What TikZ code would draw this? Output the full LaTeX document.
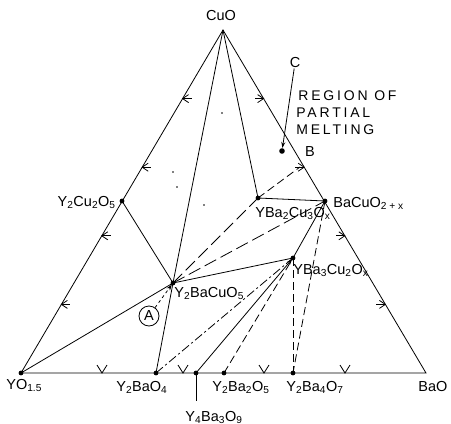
\documentclass[tikz,border=0pt]{standalone}
\usepackage{fontspec}
\setmainfont{Liberation Sans}
\usetikzlibrary{arrows.meta}
\begin{document}
\begin{tikzpicture}[x=1pt,y=-1pt,line width=0.8pt,
  lab/.style={font=\fontsize{14.5}{16}\selectfont,inner sep=0pt},
  spaced/.style={font=\fontsize{14}{16}\selectfont\addfontfeature{LetterSpace=20},inner sep=0pt},
  dsh/.style={dash pattern=on 8pt off 4pt},
  ldsh/.style={dash pattern=on 13pt off 5pt},
  dshdot/.style={dash pattern=on 9pt off 3pt on 2pt off 3pt},
  tip/.style={-{Stealth[length=6pt,width=4pt]}},
  ltick/.pic={\draw (0,0)--(9,0); \draw (6,-4)--(0,0)--(6,4);},
  rtick/.pic={\draw (0,0)--(-9,0); \draw (-6,-4)--(0,0)--(-6,4);},
  btick/.pic={\draw (-5,-8)--(0,0)--(5,-8);}]
\useasboundingbox (0,0) rectangle (451,424);
% corner and phase points
\coordinate (cuo) at (223,30);
\coordinate (yo) at (21,373);
\coordinate (bao) at (426,373);
\coordinate (ycu) at (122,201);
\coordinate (bacu) at (325,201);
\coordinate (g) at (173,283);
\coordinate (y123) at (258,198);
\coordinate (y132) at (293,258);
\coordinate (y2ba) at (156,373);
\coordinate (y4ba) at (196,373);
\coordinate (y2ba2) at (224,373);
\coordinate (y2ba4) at (293,373);
\coordinate (bpt) at (300,167);
\coordinate (melt) at (282,151);
\coordinate (y4end) at (196,401);
% triangle
\draw (yo) -- (cuo) -- (bao) -- cycle;
% tie lines
\draw (cuo) -- (g);
\draw (cuo) -- (y123);
\draw (ycu) -- (g);
\draw (y123) -- (bacu);
\draw[ldsh] (g) -- (y123);
\draw[ldsh] (g) -- (bacu);
\draw (g) -- (y132);
\draw (y132) -- (bacu);
\draw[dsh] (y123) -- (bpt);
\draw[dsh] (bacu) -- (y2ba4);
\draw[dsh] (y132) -- (y2ba4);
\draw[dshdot] (y2ba) -- (y132);
\draw[tip,shorten >=1pt] (y4ba) -- (y132);
\draw[dsh] (y2ba2) -- (y132);
\draw (yo) -- (g);
\draw (y2ba) -- (g);
\draw (y4ba) -- (y4end);
% edge ticks
\pic at (61.4,304.4) {ltick};
\pic at (101.8,235.8) {ltick};
\pic at (142.2,167.2) {ltick};
\pic at (182.6,98.6) {ltick};
\pic at (385.4,304.4) {rtick};
\pic at (344.8,235.8) {rtick};
\pic at (304.2,167.2) {rtick};
\pic at (263.6,98.6) {rtick};
\pic at (102,373) {btick};
\pic at (183,373) {btick};
\pic at (264,373) {btick};
\pic at (345,373) {btick};
% points
\foreach \p in {ycu,bacu,g,y132,y2ba,y4ba,y2ba2,y2ba4,yo}
  \fill (\p) circle (2.4);
\fill (y123) circle (2.4);
\fill (melt) circle (2.8);
\foreach \q in {(222,113),(173,172),(177,187),(204,205)}
  \fill \q circle (0.9);
% labels
\node[lab] (tcuo) at (221,16) {CuO};
\node[lab] (tc) at (295,63) {C};
\draw[tip,shorten >=3pt] (tc) -- (melt);
\node[spaced,anchor=base west] (t1) at (298,100) {REGION OF};
\node[spaced,anchor=base west] (t2) at (296,117) {PARTIAL};
\node[spaced,anchor=base west] (t3) at (296,134) {MELTING};
\node[lab] (tb) at (310,152) {B};
\node[lab,anchor=base east] (lycu) at (116,206) {Y\textsubscript{2}Cu\textsubscript{2}O\textsubscript{5}};
\node[lab,anchor=base west] (lg) at (174,297) {Y\textsubscript{2}BaCuO\textsubscript{5}};
\node[lab,anchor=base west] (l123) at (255,217) {YBa\textsubscript{2}Cu\textsubscript{3}O\textsubscript{x}};
\node[lab,anchor=base west] (lbacu) at (333,207) {BaCuO\textsubscript{2\;+\;x}};
\node[lab,anchor=base west] (l132) at (293,274) {YBa\textsubscript{3}Cu\textsubscript{2}O\textsubscript{x}};
\node[lab,anchor=base west] (lyo) at (6,389) {YO\textsubscript{1.5}};
\node[lab,anchor=base west] (ly2ba) at (116,391) {Y\textsubscript{2}BaO\textsubscript{4}};
\node[lab,anchor=base west] (ly2ba2) at (212,391) {Y\textsubscript{2}Ba\textsubscript{2}O\textsubscript{5}};
\node[lab,anchor=base west] (ly2ba4) at (286,391) {Y\textsubscript{2}Ba\textsubscript{4}O\textsubscript{7}};
\node[lab,anchor=base west] (lbao) at (418,391) {BaO};
\node[lab,anchor=base west] (ly4ba) at (185,421) {Y\textsubscript{4}Ba\textsubscript{3}O\textsubscript{9}};
% circled A
\node[lab,draw,circle,minimum size=20pt,line width=0.8pt] (ca) at (149,316) {A};
\draw[tip,dashed,shorten >=2pt] (ca) -- (g);
\end{tikzpicture}
\end{document}
